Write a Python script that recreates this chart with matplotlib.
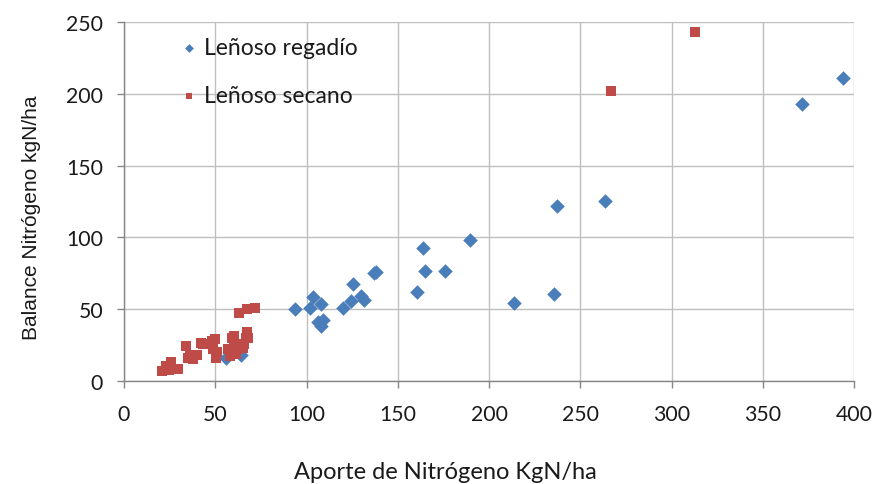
import matplotlib
matplotlib.use("Agg")
import matplotlib.pyplot as plt

# Leñoso regadío (irrigated woody crops)
regadio_aporte = [56, 64, 93.5, 102, 103.5, 106.5, 108, 108.8, 107.7, 120, 124.3,
                  125.6, 129.6, 131.4, 137, 138, 160.3, 164, 164.8, 175.8, 189.5,
                  213.7, 235.3, 237, 263.4, 371.3, 394.1]
regadio_balance = [16, 18, 50, 50.7, 58.6, 40.7, 53.3, 42.5, 38, 50.7, 55.4,
                   67.2, 58.8, 56.3, 75, 76, 62, 92.3, 76.7, 76.7, 98.3,
                   54, 60.4, 121.7, 125.2, 193.2, 211]

# Leñoso secano (rainfed woody crops)
secano_aporte = [21, 23, 24.5, 26, 26, 29.5, 34, 35, 36, 38, 40, 42, 43.5, 48, 49,
                 50, 50.5, 51, 57, 58, 59, 60, 60.5, 61.5, 62.5, 64, 65, 66, 67,
                 67.5, 68, 63, 67.5, 71.5, 267, 313]
secano_balance = [7, 10, 7.5, 13, 8, 8.5, 24.5, 16, 18, 15, 18, 26.5, 26, 28, 22,
                  29, 16, 20, 22, 17, 30, 24, 31, 19, 22, 25, 23, 26, 30,
                  34, 30, 47, 50, 51, 202, 243]

x_ticks = [0, 50, 100, 150, 200, 250, 300, 350, 400]
y_ticks = [0, 50, 100, 150, 200, 250]

plt.rcParams['font.family'] = ['Lato', 'DejaVu Sans']

fig = plt.figure(figsize=(8.77, 4.85), dpi=100)
ax = fig.add_axes([0.1414, 0.2128, 0.8326, 0.7392])

grid_c = '#bfbfbf'
ax.scatter(regadio_aporte, regadio_balance, marker='D', s=55, color='#4a7ebb',
           label='Leñoso regadío', zorder=3, linewidths=0)
ax.scatter(secano_aporte, secano_balance, marker='s', s=55, color='#be4b48',
           label='Leñoso secano', zorder=3, linewidths=0)

ax.set_xlim(0, 400)
ax.set_ylim(0, 250)
ax.set_xticks(x_ticks)
ax.set_yticks(y_ticks)
ax.grid(True, color=grid_c, linewidth=1)
ax.set_axisbelow(True)
for s in ['top', 'right']:
    ax.spines[s].set_visible(False)
for s in ['left', 'bottom']:
    ax.spines[s].set_color('#868686')
    ax.spines[s].set_linewidth(1)
ax.tick_params(axis='both', colors='#868686', labelcolor='#1a1a1a',
               labelsize=15.3, length=5, width=1)
ax.tick_params(axis='x', pad=12)
ax.tick_params(axis='y', pad=10)

ax.set_xlabel('Aporte de Nitrógeno KgN/ha', fontsize=17, color='#1a1a1a')
ax.xaxis.set_label_coords(0.44, -0.225)
ax.set_ylabel('Balance Nitrógeno kgN/ha', fontsize=15, color='#1a1a1a',
              family=['Liberation Sans', 'DejaVu Sans'])
ax.yaxis.set_label_coords(-0.114, 0.458)

leg = ax.legend(loc='upper left', bbox_to_anchor=(0.061, 0.985), frameon=False,
                fontsize=16.5, handletextpad=0.15, handlelength=1.0,
                labelspacing=1.17, markerscale=0.6, borderaxespad=0)
for t in leg.get_texts():
    t.set_color('#1a1a1a')

fig.savefig('out.png', dpi=100)
